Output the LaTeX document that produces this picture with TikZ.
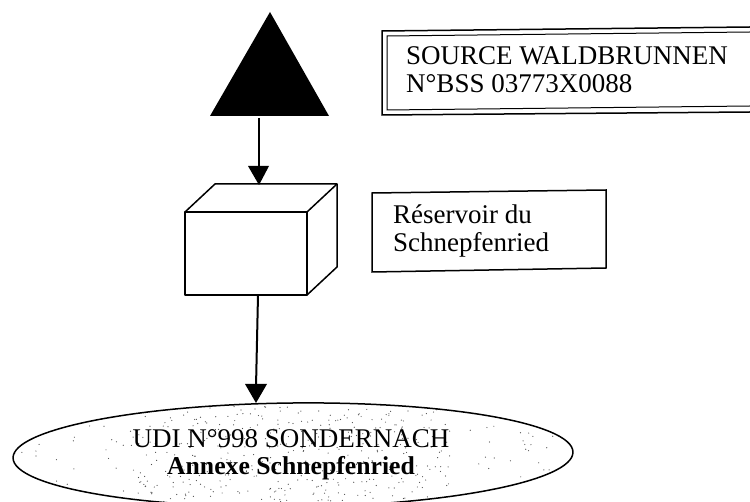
\documentclass[tikz,border=0pt]{standalone}
\usepackage{fontspec}
\setmainfont{Liberation Serif}
\pgfmathsetseed{4217}
\tikzset{
  x=1pt,y=-1pt,
  edge/.style={draw=black,line width=1.5pt},
  link/.style={edge,line width=2pt},
  tip/.style={fill=black,draw=none},
  label/.style={inner sep=0pt,align=left,font=\fontsize{27}{28}\selectfont},
  speck/.style={fill=black!70,draw=none}
}
\begin{document}
\begin{tikzpicture}
\useasboundingbox (0,0) rectangle (750,502);
% specks inside the ellipse
\begin{scope}
\clip[rotate around={0.6:(293,455)}] (293,455) ellipse [x radius=280,y radius=52];
\foreach \i in {1,...,170}{
  \pgfmathsetmacro{\px}{13+rnd*560}
  \pgfmathsetmacro{\py}{404+rnd*98}
  \fill[speck] (\px,\py) circle (0.6);
}
\foreach \i in {1,...,300}{
  \pgfmathsetmacro{\px}{130+rnd*320}
  \pgfmathsetmacro{\py}{404+rnd*98}
  \fill[speck] (\px,\py) circle (0.6);
}
\end{scope}
\draw[edge,rotate around={0.6:(293,455)}] (293,455) ellipse [x radius=280,y radius=52];
\node[label,anchor=base,align=center] (udi) at (291,448) {UDI N°998 SONDERNACH};
\node[label,anchor=base,align=center,font=\bfseries\fontsize{25.7}{28}\selectfont] (annexe) at (291,475) {Annexe Schnepfenried};
\coordinate (udiTop) at (256,403);
% triangle
\fill (270,12) -- (329,116) -- (210,116) -- cycle;
\coordinate (triB) at (259,118);
% cube
\draw[edge,line join=round] (185,212) rectangle (307,295);
\draw[edge,line join=round] (185,212) -- (215,184) -- (337,184) -- (307,212);
\draw[edge,line join=round] (337,184) -- (337,267) -- (307,295);
\coordinate (cubeT) at (259,185);
\coordinate (cubeB) at (258,295);
% connectors
\draw[link] (triB) -- (259,168);
\fill[tip] (248,166) -- (269,166) -- (cubeT) -- cycle;
\draw[link] (cubeB) -- (256,387);
\fill[tip] (245,384) -- (267,384) -- (udiTop) -- cycle;
% source box
\draw[edge] (750,27) -- (382,31) -- (382,115) -- (750,112);
\draw[line width=1pt] (750,32) -- (387,36) -- (387,110) -- (750,106);
\node[label,anchor=base west] (src) at (406,65) {SOURCE WALDBRUNNEN};
\node[label,anchor=base west] (srcb) at (406,93) {N°BSS 03773X0088};
% reservoir box
\draw[edge] (372,193) -- (606,190) -- (606,268) -- (372,272) -- cycle;
\node[label,anchor=base west] (res) at (393,224) {Réservoir du};
\node[label,anchor=base west] (resb) at (393,252) {Schnepfenried};
\end{tikzpicture}
\end{document}
